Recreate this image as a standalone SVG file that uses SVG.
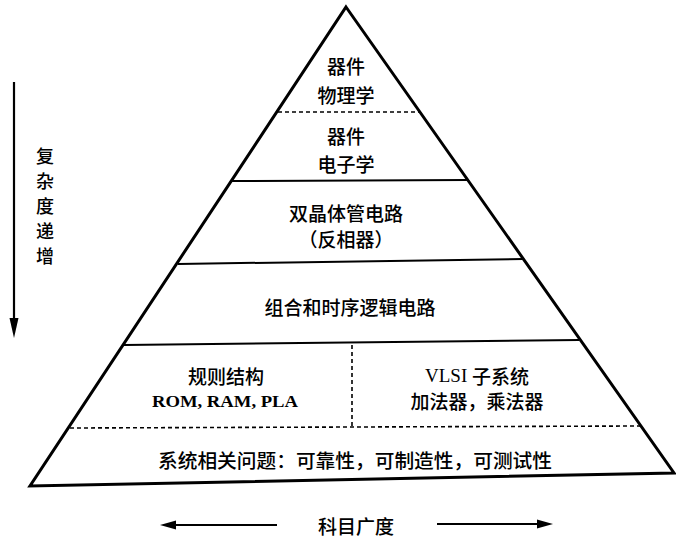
<svg xmlns="http://www.w3.org/2000/svg" width="676" height="538" viewBox="0 0 676 538">
<style>
.cjk{font-family:"Noto Sans CJK SC","Noto Sans",sans-serif;font-size:19px;font-weight:500;fill:#000;text-anchor:middle;dominant-baseline:central}
.vt{font-size:18px}
.ser{font-family:"Liberation Serif","Noto Sans CJK SC",serif;font-size:17px;font-weight:bold;fill:#000;text-anchor:middle;dominant-baseline:central}
.edge{fill:none;stroke:#000;stroke-width:3;stroke-linejoin:miter}
.sol{stroke:#000;stroke-width:2;fill:none}
.dash{stroke:#000;stroke-width:1.6;stroke-dasharray:4 3;fill:none}
.arr{stroke:#000;stroke-width:2.2;fill:none}
</style>
<rect width="676" height="538" fill="#fff"/>
<g id="pyramid">
<polygon class="edge" points="346,7 674,473 30,486"/>
</g>
<g id="connectors">
<line class="dash" x1="278" y1="112" x2="419" y2="112"/>
<line class="sol" x1="231" y1="181" x2="467" y2="180"/>
<line class="sol" x1="178" y1="264" x2="523" y2="259"/>
<line class="sol" x1="124" y1="345" x2="579" y2="340"/>
<line class="dash" x1="70" y1="428" x2="640" y2="426"/>
<line class="dash" x1="352" y1="345" x2="352" y2="428"/>
<line class="arr" x1="14" y1="82" x2="14" y2="320"/>
<polygon points="9.5,318 18.5,318 14,338" fill="#000"/>
<line class="arr" x1="172" y1="525" x2="277" y2="525"/>
<polygon points="160,525 176,520.5 176,529.5" fill="#000"/>
<line class="arr" x1="437" y1="524" x2="540" y2="524"/>
<polygon points="553,524 537,519.5 537,528.5" fill="#000"/>
</g>
<g id="n1">
<text class="cjk" x="346" y="65">器件</text>
<text class="cjk" x="346" y="94">物理学</text>
</g>
<g id="n2">
<text class="cjk" x="346" y="135">器件</text>
<text class="cjk" x="346" y="163">电子学</text>
</g>
<g id="n3">
<text class="cjk" x="346" y="212">双晶体管电路</text>
<text class="cjk" x="346" y="238">（反相器）</text>
</g>
<g id="n4">
<text class="cjk" x="350" y="306">组合和时序逻辑电路</text>
</g>
<g id="n5">
<text class="cjk" x="226" y="375">规则结构</text>
<text class="ser" x="225" y="401" textLength="146" lengthAdjust="spacingAndGlyphs">ROM, RAM, PLA</text>
</g>
<g id="n6">
<text class="cjk" x="477" y="375"><tspan font-family="Liberation Serif" font-weight="normal">VLSI </tspan>子系统</text>
<text class="cjk" x="477" y="400">加法器，乘法器</text>
</g>
<g id="n7">
<text class="cjk" x="355" y="459" textLength="394" lengthAdjust="spacingAndGlyphs">系统相关问题：可靠性，可制造性，可测试性</text>
</g>
<g id="axis-labels">
<text class="cjk vt" x="45" y="155">复</text>
<text class="cjk vt" x="45" y="180">杂</text>
<text class="cjk vt" x="45" y="205">度</text>
<text class="cjk vt" x="45" y="230">递</text>
<text class="cjk vt" x="45" y="255">增</text>
<text class="cjk" x="356" y="525">科目广度</text>
</g>
</svg>
